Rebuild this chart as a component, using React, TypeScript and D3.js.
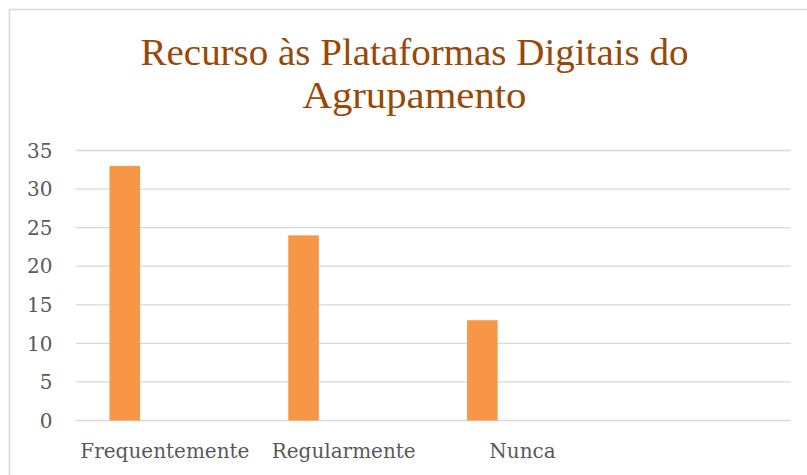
import React from "react";
import * as d3 from "d3";

const titleLines = ["Recurso às Plataformas Digitais do", "Agrupamento"];
const categories = ["Frequentemente", "Regularmente", "Nunca", ""];
const values = [33, 24, 13, null];
const yTicks = [0, 5, 10, 15, 20, 25, 30, 35];

const W = 807;
const H = 475;
const plot = { left: 75.5, right: 790.7, top: 150.5, bottom: 420.5 };

export default function App() {
  const x = d3.scaleBand<string>().domain(categories.map((c, i) => String(i))).range([plot.left, plot.right]).padding(0);
  const y = d3.scaleLinear().domain([0, 35]).range([plot.bottom, plot.top]);
  const bw = x.bandwidth();
  const sub = d3.scaleBand<string>().domain(["s1"]).range([bw * 0.19, bw * 0.361]).padding(0);

  return (
    <svg width={W} height={H} style={{ position: "absolute", left: 0, top: 0, display: "block" }}>
      <rect x={0} y={0} width={W} height={H} fill="#ffffff" />
      <rect x={9.5} y={9.5} width={W + 20} height={H + 20} fill="none" stroke="#d9d9d9" strokeWidth={1.6} />
      <g fontFamily="'Liberation Serif', serif" fill="#984807" fontSize={38} textAnchor="middle">
        <text x={414.5} y={65} textLength={548} lengthAdjust="spacingAndGlyphs">{titleLines[0]}</text>
        <text x={414.5} y={108} textLength={224} lengthAdjust="spacingAndGlyphs">{titleLines[1]}</text>
      </g>
      <g>
        {yTicks.map((t) => (
          <line key={t} x1={plot.left} x2={plot.right} y1={y(t)} y2={y(t)} stroke="#d9d9d9" strokeWidth={1.3} />
        ))}
      </g>
      <g fontFamily="'DejaVu Serif', serif" fontSize={20} fill="#595959">
        {yTicks.map((t) => (
          <text key={t} x={52.5} y={y(t)} dy="0.36em" textAnchor="end">{t}</text>
        ))}
      </g>
      <g>
        {values.map((v, i) =>
          v == null ? null : (
            <rect
              key={i}
              x={(x(String(i)) as number) + (sub("s1") as number)}
              y={y(v)}
              width={sub.bandwidth()}
              height={y(0) - y(v)}
              fill="#f79646"
            />
          )
        )}
      </g>
      <g fontFamily="'DejaVu Serif', serif" fontSize={20} fill="#595959" textAnchor="middle">
        {categories.map((c, i) => (
          <text key={i} x={(x(String(i)) as number) + bw / 2} y={458}>{c}</text>
        ))}
      </g>
    </svg>
  );
}
